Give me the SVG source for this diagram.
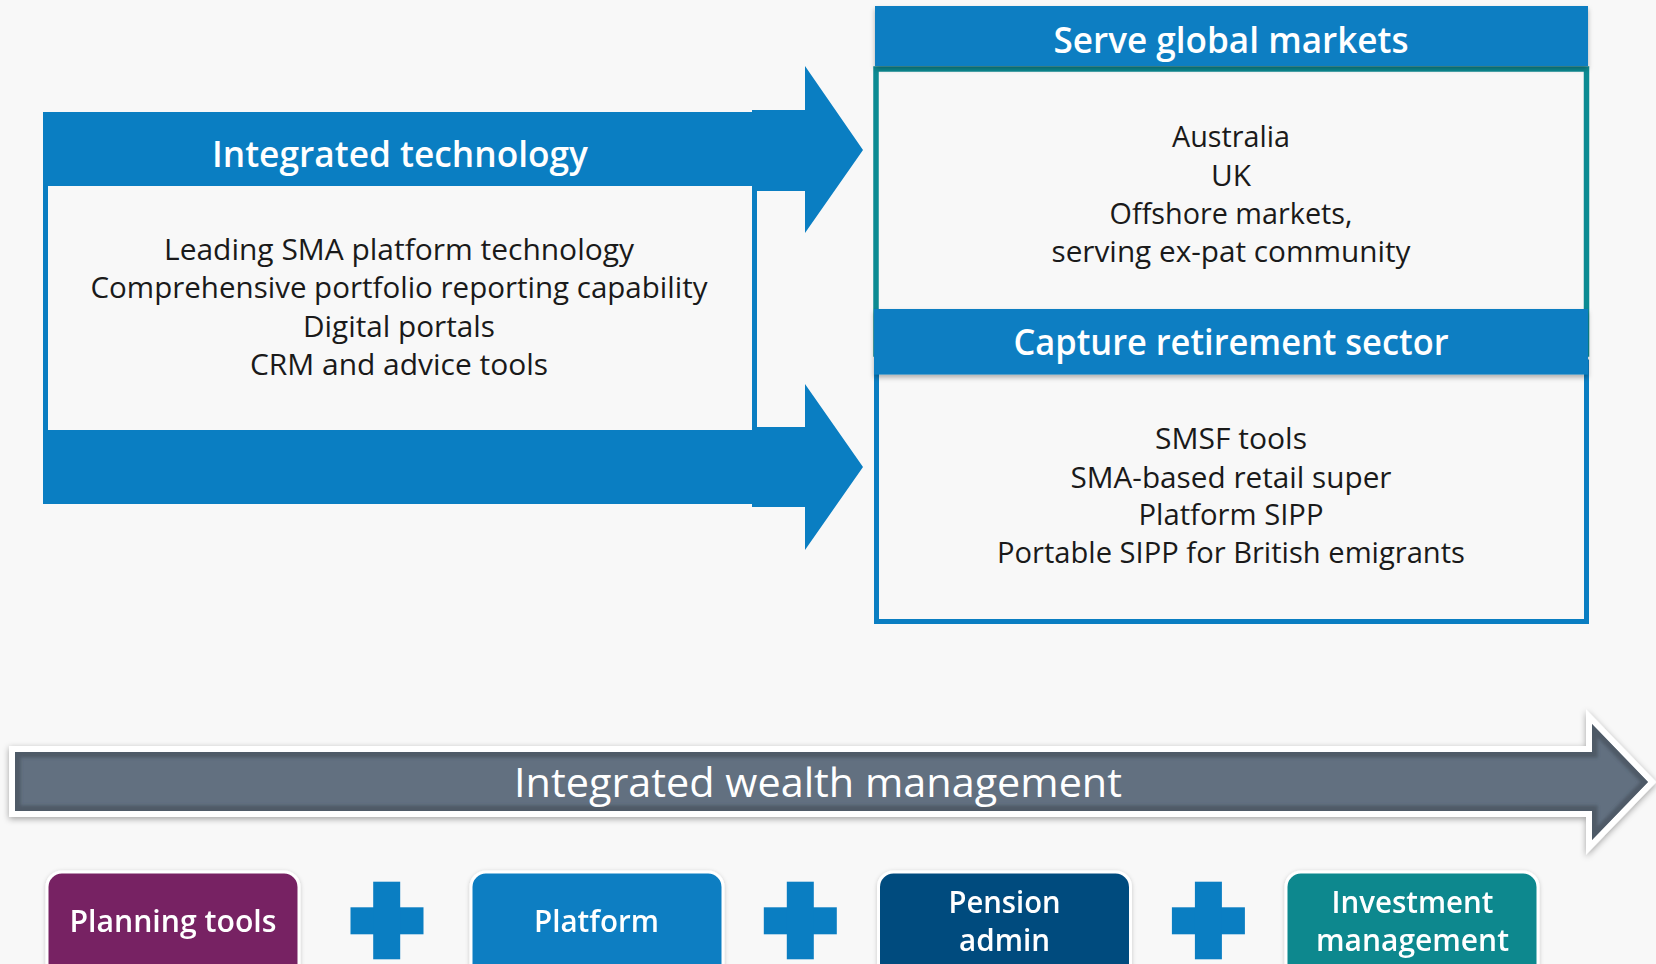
<svg xmlns="http://www.w3.org/2000/svg" width="1656" height="964" viewBox="0 0 1656 964">
  <defs>
    <style>
      .bg { fill: #f8f8f8; }
      .blue { fill: #0a7ec2; }
      .hdr { font-family: "Open Sans", "Noto Sans", "Liberation Sans", sans-serif; font-weight: 600; font-size: 36px; fill: #ffffff; text-anchor: middle; }
      .body { font-family: "Open Sans", "Noto Sans", "Liberation Sans", sans-serif; font-weight: 400; font-size: 29px; fill: #1a1a1a; text-anchor: middle; }
      .tile { font-family: "Open Sans", "Noto Sans", "Liberation Sans", sans-serif; font-weight: 600; font-size: 30px; fill: #ffffff; text-anchor: middle; }
      .band { font-family: "Open Sans", "Noto Sans", "Liberation Sans", sans-serif; font-weight: 500; font-size: 40px; fill: #ffffff; text-anchor: middle; }
      .tilebox { stroke: #ffffff; stroke-width: 3; }
    </style>
    <filter id="hdrShadow" x="-5%" y="-30%" width="110%" height="170%">
      <feDropShadow dx="0" dy="3" stdDeviation="2.5" flood-color="#000000" flood-opacity="0.3"/>
    </filter>
    <filter id="arrowShadow" x="-2%" y="-20%" width="104%" height="140%">
      <feDropShadow dx="0" dy="2" stdDeviation="3" flood-color="#000000" flood-opacity="0.35"/>
    </filter>
    <filter id="tileShadow" x="-10%" y="-10%" width="120%" height="130%">
      <feDropShadow dx="0" dy="1" stdDeviation="2" flood-color="#000000" flood-opacity="0.2"/>
    </filter>
    <filter id="soft" x="-5%" y="-5%" width="110%" height="110%">
      <feGaussianBlur stdDeviation="1.5"/>
    </filter>
    <clipPath id="bandClip">
      <path d="M15,752 L1592,752 L1592,724 L1648,782 L1592,840 L1592,811 L15,811 Z"/>
    </clipPath>
  </defs>

  <rect class="bg" x="0" y="0" width="1656" height="964"/>

  <!-- Integrated technology frame -->
  <g id="integrated-technology">
    <rect class="bg" x="48" y="186" width="704" height="244"/>
    <rect class="blue" x="43" y="112" width="709" height="74"/>
    <rect class="blue" x="43" y="430" width="709" height="74"/>
    <rect class="blue" x="43" y="186" width="5" height="244"/>
    <rect class="blue" x="752" y="186" width="5" height="244"/>
    <text class="hdr" x="400" y="167" textLength="376" lengthAdjust="spacingAndGlyphs">Integrated technology</text>
    <text class="body" x="399" y="260" textLength="470" lengthAdjust="spacingAndGlyphs">Leading SMA platform technology</text>
    <text class="body" x="399" y="298" textLength="617" lengthAdjust="spacingAndGlyphs">Comprehensive portfolio reporting capability</text>
    <text class="body" x="399" y="337" textLength="192" lengthAdjust="spacingAndGlyphs">Digital portals</text>
    <text class="body" x="399" y="375" textLength="298" lengthAdjust="spacingAndGlyphs">CRM and advice tools</text>
  </g>

  <!-- Arrows from the technology frame to the two target boxes -->
  <g id="connectors">
    <path class="blue" d="M752,110 L805,110 L805,66 L863,150 L805,233 L805,191 L752,191 Z"/>
    <path class="blue" d="M752,427 L805,427 L805,384 L863,467 L805,550 L805,507 L752,507 Z"/>
  </g>

  <!-- Serve global markets -->
  <g id="serve-global-markets">
    <rect x="876" y="69" width="710.5" height="285" fill="#f8f8f8" stroke="#0c8b93" stroke-width="5.5"/>
    <rect class="blue" x="875" y="6" width="713" height="60" filter="url(#hdrShadow)"/>
    <text class="hdr" x="1231" y="53" textLength="355" lengthAdjust="spacingAndGlyphs">Serve global markets</text>
    <text class="body" x="1231" y="147" textLength="118" lengthAdjust="spacingAndGlyphs">Australia</text>
    <text class="body" x="1231" y="186" textLength="40" lengthAdjust="spacingAndGlyphs">UK</text>
    <text class="body" x="1231" y="224" textLength="243" lengthAdjust="spacingAndGlyphs">Offshore markets,</text>
    <text class="body" x="1231" y="262" textLength="359" lengthAdjust="spacingAndGlyphs">serving ex-pat community</text>
  </g>

  <!-- Capture retirement sector -->
  <g id="capture-retirement-sector">
    <rect x="876.5" y="362" width="710" height="259.5" fill="#f8f8f8" stroke="#0a7ec2" stroke-width="5"/>
    <rect class="blue" x="874" y="309" width="714" height="65.5" filter="url(#hdrShadow)"/>
    <text class="hdr" x="1231" y="355" textLength="435" lengthAdjust="spacingAndGlyphs">Capture retirement sector</text>
    <text class="body" x="1231" y="449" textLength="152" lengthAdjust="spacingAndGlyphs">SMSF tools</text>
    <text class="body" x="1231" y="487.5" textLength="321" lengthAdjust="spacingAndGlyphs">SMA-based retail super</text>
    <text class="body" x="1231" y="525" textLength="185" lengthAdjust="spacingAndGlyphs">Platform SIPP</text>
    <text class="body" x="1231" y="563" textLength="468" lengthAdjust="spacingAndGlyphs">Portable SIPP for British emigrants</text>
  </g>

  <!-- Integrated wealth management band -->
  <g id="integrated-wealth-management">
    <path d="M15,752 L1592,752 L1592,724 L1648,782 L1592,840 L1592,811 L15,811 Z" fill="#627080" stroke="#ffffff" stroke-width="12" stroke-linejoin="miter" paint-order="stroke" filter="url(#arrowShadow)"/>
    <g clip-path="url(#bandClip)">
      <path d="M15,752 L1592,752 L1592,724 L1648,782 L1592,840 L1592,811 L15,811 Z" fill="none" stroke="#48525f" stroke-width="11" opacity="0.75" filter="url(#soft)"/>
    </g>
    <text class="band" x="818" y="797" textLength="608" lengthAdjust="spacingAndGlyphs">Integrated wealth management</text>
  </g>

  <!-- Capability tiles -->
  <g id="planning-tools" filter="url(#tileShadow)">
    <rect class="tilebox" x="47" y="872" width="252" height="130" rx="15" fill="#772263"/>
    <text class="tile" x="173" y="932" textLength="207" lengthAdjust="spacingAndGlyphs">Planning tools</text>
  </g>
  <g id="plus-1">
    <rect class="blue" x="350.5" y="907.3" width="73" height="27"/>
    <rect class="blue" x="373.2" y="881.7" width="27" height="77.6"/>
  </g>
  <g id="platform" filter="url(#tileShadow)">
    <rect class="tilebox" x="471" y="872" width="252" height="130" rx="15" fill="#0a7ec2"/>
    <text class="tile" x="596.5" y="932" textLength="125" lengthAdjust="spacingAndGlyphs">Platform</text>
  </g>
  <g id="plus-2">
    <rect class="blue" x="763.8" y="907.3" width="73" height="27"/>
    <rect class="blue" x="786.8" y="881.7" width="27" height="77.6"/>
  </g>
  <g id="pension-admin" filter="url(#tileShadow)">
    <rect class="tilebox" x="878.5" y="872" width="252" height="130" rx="15" fill="#054b7e"/>
    <text class="tile" x="1004.5" y="913" textLength="112" lengthAdjust="spacingAndGlyphs">Pension</text>
    <text class="tile" x="1004.5" y="951" textLength="91" lengthAdjust="spacingAndGlyphs">admin</text>
  </g>
  <g id="plus-3">
    <rect class="blue" x="1171.9" y="907.3" width="73" height="27"/>
    <rect class="blue" x="1194.9" y="881.7" width="27" height="77.6"/>
  </g>
  <g id="investment-management" filter="url(#tileShadow)">
    <rect class="tilebox" x="1286" y="872" width="252" height="130" rx="15" fill="#08888e"/>
    <text class="tile" x="1412.5" y="913" textLength="162" lengthAdjust="spacingAndGlyphs">Investment</text>
    <text class="tile" x="1412.5" y="951" textLength="193" lengthAdjust="spacingAndGlyphs">management</text>
  </g>
</svg>
